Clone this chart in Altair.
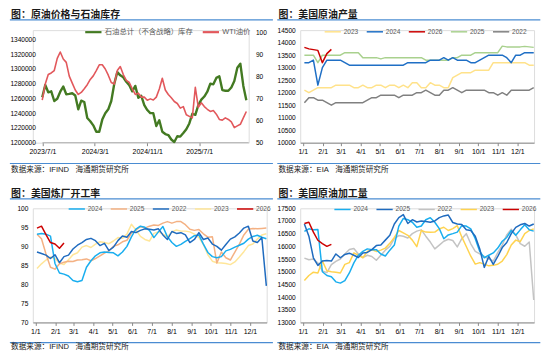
import altair as alt
import pandas as pd

FONT = "Liberation Sans, Noto Sans CJK SC, sans-serif"
SEP_BLUE = "#4A8CD2"
AXIS_GRAY = "#B0B0B0"
LABEL_COL = "#333333"

# ---------------- Panel 1: crude price vs commercial inventory ----------------
P1_START = "2023-06-30"
INVENTORY = [
    1261700, 1278300, 1268300, 1269600, 1256500, 1259600, 1269100, 1276100, 1265700, 1266100,
    1267000, 1264000, 1245200, 1257000, 1255200, 1233500, 1229100, 1223500, 1214800, 1214800,
    1231300, 1240000, 1245200, 1256500, 1280000, 1295700, 1291300, 1288700, 1282600, 1277800,
    1269600, 1277000, 1260900, 1263500, 1250900, 1244300, 1240000, 1240000, 1222600, 1230400,
    1214800, 1211700, 1210400, 1204300, 1200900, 1208700, 1208300, 1213000, 1218300, 1226100,
    1239100, 1237800, 1250900, 1258300, 1262600, 1269100, 1280000, 1279100, 1287800, 1290000,
    1271300, 1270400, 1270400, 1274800, 1283500, 1301700, 1307000, 1277000, 1257400]
WTI = [
    69.2, 76.5, 80.8, 81.5, 82.6, 88.1, 91.0, 87.8, 86.3, 80.1,
    76.9, 73.8, 71.8, 72.7, 74.4, 76.2, 78.6, 80.2, 82.6, 85.2,
    85.2, 83.3, 80.5, 77.2, 76.5, 82.6, 84.4, 80.8, 78.2, 77.2,
    74.3, 71.8, 72.4, 70.6, 70.6, 69.2, 69.8, 69.3, 70.6, 74.3,
    79.1, 73.8, 71.8, 70.3, 68.6, 67.7, 65.6, 66.3, 62.6, 61.9,
    61.2, 75.0, 66.0, 68.0, 66.3, 65.1, 64.1, 64.5, 62.9, 60.5,
    60.2, 61.2, 60.5, 59.4, 56.8, 57.6, 58.3, 61.2, 64.1]
P1_SERIES = ["石油总计（不含战略）库存", "WTI油价"]
P1_COLORS = ["#437A22", "#E2585C"]
P1_TICK_DATES = [(2023, 7, 1), (2024, 3, 1), (2024, 11, 1), (2025, 7, 1)]
INV_TICKS = [1200000, 1220000, 1240000, 1260000, 1280000, 1300000, 1320000, 1340000]
WTI_TICKS = [50, 60, 70, 80, 90, 100]

# ---------------- seasonal axis ----------------
MONTH_DAYS = [0, 31, 59, 90, 120, 151, 181, 212, 243, 273, 304, 334]
MONTH_LABELS = ["1/1", "2/1", "3/1", "4/1", "5/1", "6/1", "7/1", "8/1", "9/1", "10/1", "11/1", "12/1"]

# ---------------- Panel 2: US crude production ----------------
P2 = {
    "2023": [12100, 12000, 12100, 12200, 12200, 12200, 12200, 12300, 12300, 12300,
             12300, 12200, 12200, 12300, 12200, 12200, 12300, 12300, 12200, 12300,
             12300, 12200, 12300, 12200, 12400, 12400, 12200, 12200, 12400, 12300,
             12300, 12200, 12200, 12600, 12700, 12800, 12800, 12800, 12900, 12900,
             12900, 12900, 13200, 13200, 13200, 13200, 13200, 13200, 13200, 13200,
             13100, 13100],
    "2024": [13200, 13200, 13300, 12300, 13000, 13300, 13300, 13300, 13300, 13200,
             13100, 13100, 13100, 13100, 13100, 13100, 13100, 13100, 13100, 13100,
             13100, 13100, 13100, 13200, 13200, 13200, 13200, 13200, 13300, 13300,
             13300, 13400, 13300, 13400, 13300, 13300, 13300, 13200, 13200, 13300,
             13400, 13500, 13500, 13500, 13500, 13400, 13200, 13500, 13500, 13600,
             13600, 13600],
    "2026": [13810, 13750, 13720, 13690, 13200, 13560, 13730],
    "2025": [13500, 13500, 13500, 13200, 13500, 13500, 13500, 13500, 13500, 13600,
             13600, 13600, 13600, 13400, 13400, 13400, 13400, 13350, 13400, 13400,
             13400, 13400, 13400, 13400, 13400, 13400, 13400, 13300, 13300, 13300,
             13300, 13300, 13300, 13400, 13400, 13500, 13500, 13500, 13600, 13600,
             13600, 13600, 13600, 13600, 13860, 13830, 13830, 13830, 13830, 13850,
             13830, 13810],
    "2022": [11600, 11800, 11800, 11700, 11700, 11600, 11500, 11600, 11600, 11600,
             11600, 11600, 11600, 11600, 11700, 11800, 11800, 11900, 11900, 11900,
             11900, 11800, 11900, 11900, 11900, 12000, 12000, 12100, 12000, 11900,
             11900, 12100, 12100, 12200, 12100, 12000, 12100, 12100, 12100, 12100,
             12100, 12000, 12000, 11900, 12000, 11900, 12100, 12100, 12100, 12100,
             12100, 12200],
}
P2_LEGEND = ["2023", "2024", "2026", "2025", "2022"]
P2_COLORS = ["#FFE28A", "#1F6FC5", "#CC0000", "#A9D18E", "#808080"]
P2_WIDTHS = [1.5, 1.5, 1.5, 1.5, 1.5]
P2_DRAW = ["2022", "2023", "2025", "2024", "2026"]
P2_TICKS = [10000, 10500, 11000, 11500, 12000, 12500, 13000, 13500, 14000, 14500]

# ---------------- Panel 3: refinery utilisation ----------------
P3 = {
    "2024": [93.2, 93.4, 93.2, 92.7, 85.5, 83.0, 82.7, 82.2, 81.0, 80.7,
             81.0, 84.5, 86.2, 87.5, 88.3, 88.5, 88.4, 88.3, 87.5, 88.5,
             90.0, 92.5, 94.5, 95.3, 95.0, 94.2, 92.3, 93.8, 95.2, 92.5,
             91.0, 90.0, 90.5, 91.3, 92.0, 92.8, 93.0, 90.6, 88.4, 87.3,
             87.0, 87.3, 88.8, 89.2, 89.8, 90.3, 90.8, 91.9, 92.6, 92.9,
             92.4, 92.0],
    "2025": [93.2, 92.0, 88.0, 84.5, 84.0, 85.4, 85.8, 86.1, 86.0, 86.4,
             86.5, 86.7, 86.2, 86.8, 87.5, 88.2, 88.8, 90.0, 90.4, 91.2,
             91.6, 93.5, 94.3, 95.2, 94.8, 95.3, 95.6, 95.5, 96.1, 96.5,
             96.1, 96.5, 96.5, 95.7, 94.5, 94.2, 94.4, 93.3, 92.4, 92.5,
             85.6, 88.5, 87.0, 86.4, 88.5, 90.6, 93.0, 94.5, 94.7, 94.6,
             94.7, 94.8],
    "2022": [88.5, 88.1, 87.7, 86.8, 87.8, 85.7, 87.3, 87.7, 89.3, 90.3,
             91.0, 91.8, 92.1, 91.5, 90.2, 90.8, 88.9, 89.8, 91.5, 92.7,
             92.4, 93.9, 93.6, 94.2, 94.6, 94.5, 94.3, 94.6, 93.0, 91.8,
             93.9, 93.4, 93.6, 93.0, 91.0, 91.8, 93.6, 91.8, 92.2, 90.6,
             90.0, 89.0, 90.5, 91.9, 92.5, 93.5, 94.8, 95.3, 91.4, 91.0,
             92.3, 79.6],
    "2023": [84.2, 85.4, 86.4, 87.2, 86.8, 85.6, 85.2, 86.5, 87.8, 88.3,
             89.8, 90.2, 89.7, 90.6, 91.2, 91.0, 90.7, 91.4, 92.3, 92.1,
             93.2, 95.8, 94.3, 92.6, 91.8, 91.4, 93.4, 93.8, 93.2, 92.5,
             93.8, 94.3, 94.0, 94.0, 93.8, 93.2, 92.3, 90.5, 87.8, 86.1,
             85.7, 85.6, 85.5, 85.2, 85.9, 87.2, 88.6, 90.2, 90.6, 91.9,
             93.0, 93.3],
    "2026": [94.8, 95.3, 93.1, 91.0, 90.6, 89.5, 90.9],
}
P3_LEGEND = ["2024", "2025", "2022", "2023", "2026"]
P3_COLORS = ["#19AEEF", "#F4B183", "#1F6BBF", "#FFE699", "#CC0000"]
P3_WIDTHS = [1.5, 1.5, 1.5, 1.5, 1.5]
P3_DRAW = ["2023", "2025", "2024", "2022", "2026"]
P3_TICKS = [70, 75, 80, 85, 90, 95, 100]

# ---------------- Panel 4: refinery crude runs ----------------
P4 = {
    "2024": [16590, 16690, 16650, 16660, 15000, 14850, 14800, 14600, 14550, 14650,
             14950, 15350, 15650, 15800, 15900, 15870, 15870, 15700, 15620, 15850,
             16050, 16800, 17100, 17050, 16950, 16750, 16800, 17050, 17130, 16950,
             16700, 16300, 16450, 16500, 16560, 16815, 16800, 16690, 16300, 15800,
             15550, 15650, 15740, 15930, 16200, 16350, 16625, 16435, 16650, 16850,
             16650, 16600],
    "2025": [16880, 16400, 15550, 15250, 15420, 15440, 15420, 15700, 15550, 15680,
             15730, 15650, 15560, 15740, 15760, 15870, 16030, 16055, 16245, 16435,
             16880, 17130, 17250, 16900, 17050, 16960, 17000, 16980, 16950, 17000,
             17130, 17200, 17234, 16940, 16880, 16860, 16650, 16625, 16400, 15900,
             15170, 15600, 15290, 15600, 15950, 16150, 16500, 16750, 16850, 16900,
             16800, 16880],
    "2022": [15535, 15472, 15497, 15345, 15028, 14965, 15282, 15408, 15500, 15700,
             15877, 15915, 15700, 15560, 15650, 15600, 15450, 15650, 15850, 16000,
             16300, 16423, 16400, 16330, 16500, 16600, 16650, 16400, 16169, 15900,
             16050, 16200, 16280, 16230, 15979, 16300, 16500, 16100, 15800, 15700,
             15600, 15500, 15420, 15750, 16050, 16450, 16676, 16450, 16106, 16004,
             16169, 13887],
    "2023": [14650, 14850, 14980, 14950, 15420, 15040, 15000, 14980, 14950, 15290,
             15360, 15740, 15650, 15550, 15800, 15865, 15800, 15850, 15930, 16118,
             16350, 16625, 16530, 16435, 16245, 15990, 16625, 16562, 16560, 16562,
             16689, 16752, 16625, 16700, 16815, 16372, 15992, 15611, 15300, 15358,
             15300, 15231, 15250, 15294, 15421, 15675, 16055, 16245, 16182, 16499,
             16625, 16689],
    "2026": [16900, 16950, 16560, 16240, 16110, 16000, 16080],
}
P4_LEGEND = ["2024", "2025", "2022", "2023", "2026"]
P4_COLORS = ["#19AEEF", "#1F6BBF", "#C3C3C3", "#FFD34F", "#CC0000"]
P4_WIDTHS = [1.5, 1.5, 1.5, 2.6, 1.5]
P4_DRAW = ["2022", "2023", "2024", "2025", "2026"]
P4_TICKS = [13000, 13500, 14000, 14500, 15000, 15500, 16000, 16500, 17000, 17500]

TITLES = ["图：原油价格与石油库存", "图：美国原油产量", "图：美国炼厂开工率", "图：美国原油加工量"]
SOURCES = ["数据来源：IFIND\u00a0\u00a0\u00a0海通期货研究所",
           "数据来源：EIA\u00a0\u00a0\u00a0海通期货研究所",
           "数据来源：IFIND\u00a0\u00a0\u00a0海通期货研究所",
           "数据来源：EIA\u00a0\u00a0\u00a0海通期货研究所"]

# ---------------- layout (pixels) ----------------
W1 = 217.5
W_S = 235.6
H_TOP = 113.4
H_BOT = 115.0


def decor(title, source, row):
    if row == 0:
        ty, tl, sl, sy = -15.2, -10.4, 134.4, 141.0
    else:
        ty, tl, sl, sy = -14.3, -9.5, 135.4, 139.6
    base = alt.Chart(alt.Data(values=[{"k": 0}]))
    t = base.mark_text(align="left", baseline="middle", font=FONT, fontSize=10,
                       fontWeight="bold", color="#1A1A1A").encode(
        x=alt.value(-21.9), y=alt.value(ty), text=alt.value(title))
    r1 = base.mark_rule(color=SEP_BLUE, strokeWidth=1.2).encode(
        x=alt.value(-23.1), x2=alt.value(241.9), y=alt.value(tl))
    r2 = base.mark_rule(color=SEP_BLUE, strokeWidth=1.2).encode(
        x=alt.value(-23.1), x2=alt.value(241.9), y=alt.value(sl))
    s = base.mark_text(align="left", baseline="middle", font=FONT, fontSize=7.7,
                       color="#222222").encode(
        x=alt.value(-21.9), y=alt.value(sy), text=alt.value(source))
    return [t, r1, r2, s]


def legend(x, y, cols, font_size=6.6, sw=1.6):
    return alt.Legend(orient="none", legendX=x, legendY=y, direction="horizontal",
                      columns=cols, title=None, symbolType="stroke", symbolSize=268,
                      symbolStrokeWidth=sw, labelFontSize=font_size, labelFont=FONT,
                      labelColor="#595959", labelOffset=2, columnPadding=4.4,
                      padding=0, rowPadding=0, labelLimit=300)


def month_expr():
    days = ",".join(str(d) for d in MONTH_DAYS)
    labs = ",".join("'" + s + "'" for s in MONTH_LABELS)
    return f"[{labs}][indexof([{days}], datum.value)]"


def seasonal(series, legend_order, colors, widths, draw, ydom, yticks,
             leg_x, leg_y, title, source, height, row):
    rows = []
    for name in draw:
        for i, v in enumerate(series[name]):
            rows.append({"year": name, "day": 2.5 + 7 * i, "value": v})
    df = pd.DataFrame(rows)
    x = alt.X("day:Q", scale=alt.Scale(domain=[-4, 360], nice=False, zero=False),
              axis=alt.Axis(values=MONTH_DAYS, labelExpr=month_expr(), title=None, grid=False,
                            tickSize=3, labelPadding=2, labelFontSize=7, labelFlush=False,
                            labelOverlap=False))
    y = alt.Y("value:Q", scale=alt.Scale(domain=ydom, nice=False, zero=False),
              axis=alt.Axis(values=yticks, format="d", title=None, grid=False, ticks=False,
                            domain=False, labelPadding=5, labelFontSize=6.6))
    line = alt.Chart(df).mark_line(strokeJoin="round").encode(
        x=x, y=y,
        color=alt.Color("year:N", scale=alt.Scale(domain=legend_order, range=colors),
                        legend=legend(leg_x, leg_y, len(legend_order))),
        strokeWidth=alt.StrokeWidth("year:N", scale=alt.Scale(domain=legend_order, range=widths),
                                    legend=None),
    )
    return alt.layer(line, *decor(title, source, row)).properties(width=W_S, height=height)


# ---------------- Panel 1 ----------------
dates = pd.date_range(P1_START, periods=len(INVENTORY), freq="14D")
df_inv = pd.DataFrame({"date": dates, "value": INVENTORY, "series": P1_SERIES[0]})
df_wti = pd.DataFrame({"date": dates, "value": WTI, "series": P1_SERIES[1]})
df_base = pd.DataFrame({"s": ["2023-07-01T00:00:00"], "e": ["2026-02-17T00:00:00"]})

x1_scale = alt.Scale(domain=[alt.DateTime(year=2023, month=5, date=17),
                             alt.DateTime(year=2026, month=2, date=17)])
x1_axis = alt.Axis(values=[alt.DateTime(year=a, month=b, date=c) for a, b, c in P1_TICK_DATES],
                   format="%Y/%-m/%-d", title=None, grid=False, domain=False, tickSize=3,
                   labelPadding=2, labelFontSize=7, labelFlush=False, labelOverlap=False)
color1 = alt.Color("series:N", scale=alt.Scale(domain=P1_SERIES, range=P1_COLORS),
                   legend=legend(51.5, -7.5, 2, font_size=7.4, sw=2.2))

baseline = alt.Chart(df_base).mark_rule(color=AXIS_GRAY, strokeWidth=1).encode(
    x=alt.X("s:T", scale=x1_scale, axis=x1_axis), x2="e:T", y=alt.value(H_TOP))
green = alt.Chart(df_inv).mark_line(strokeWidth=2.4, strokeJoin="round").encode(
    x=alt.X("date:T", scale=x1_scale, axis=x1_axis),
    y=alt.Y("value:Q", scale=alt.Scale(domain=[1200000, 1352600], nice=False, zero=False),
            axis=alt.Axis(orient="left", values=INV_TICKS, format="d", title=None, grid=False,
                          ticks=False, domain=False, labelPadding=0, offset=-2.6,
                          labelFontSize=6.6)),
    color=color1)
red = alt.Chart(df_wti).mark_line(strokeWidth=1.6, strokeJoin="round").encode(
    x=alt.X("date:T", scale=x1_scale, axis=x1_axis),
    y=alt.Y("value:Q", scale=alt.Scale(domain=[50, 100.87], nice=False, zero=False),
            axis=alt.Axis(orient="right", values=WTI_TICKS, format="d", title=None, grid=False,
                          ticks=False, domain=False, labelPadding=6.8, labelFontSize=6.6)),
    color=color1)
p1 = alt.layer(baseline, green, red, *decor(TITLES[0], SOURCES[0], 0)).resolve_scale(
    y="independent").properties(width=W1, height=H_TOP)

p2 = seasonal(P2, P2_LEGEND, P2_COLORS, P2_WIDTHS, P2_DRAW, [10000, 14500], P2_TICKS,
              23.8, -7.5, TITLES[1], SOURCES[1], H_TOP, 0)
p3 = seasonal(P3, P3_LEGEND, P3_COLORS, P3_WIDTHS, P3_DRAW, [70, 100], P3_TICKS,
              35.3, -8.5, TITLES[2], SOURCES[2], H_BOT, 1)
p4 = seasonal(P4, P4_LEGEND, P4_COLORS, P4_WIDTHS, P4_DRAW, [13000, 17500], P4_TICKS,
              33.6, -8.0, TITLES[3], SOURCES[3], H_BOT, 1)

RES = dict(x="independent", y="independent", color="independent", strokeWidth="independent")

chart = alt.concat(p1, p2, p3, p4, columns=2, bounds="flush",
                   spacing=alt.RowColnumber(row=65.5, column=33.4), padding=0).resolve_scale(
    **RES).configure_view(stroke=None).configure_axis(
    labelFont=FONT, labelColor=LABEL_COL, domainColor=AXIS_GRAY, tickColor=AXIS_GRAY,
    domainWidth=1, tickWidth=1).configure(background="white")

chart.save("out.html", embed_options={"renderer": "svg", "actions": False})
